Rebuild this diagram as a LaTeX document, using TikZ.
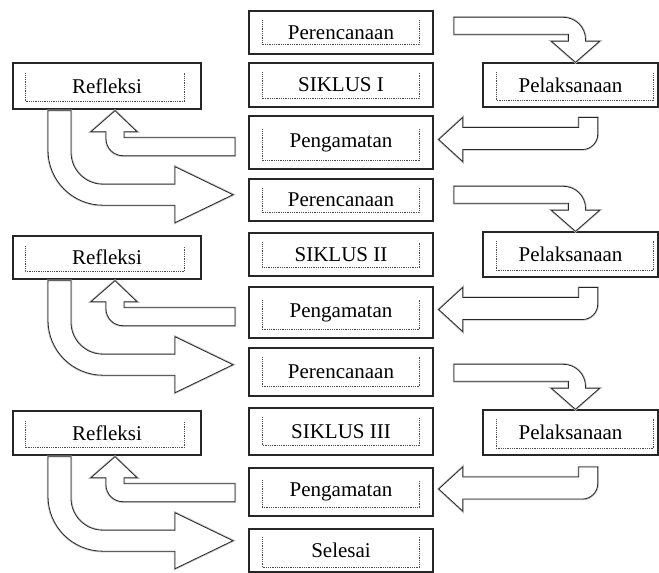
\documentclass[tikz,border=0pt]{standalone}
\usepackage{fontspec}
\setmainfont{Liberation Serif}
\usetikzlibrary{calc}

\begin{document}
\begin{tikzpicture}[x=1pt,y=-1pt,
  box/.style={draw=black!85,line width=1.4pt,fill=white,inner sep=0pt,
    font=\fontsize{21}{25}\selectfont},
  inner/.style={black!70,line width=0.8pt,dash pattern=on 0.9pt off 0.9pt},
  blockarrow/.style={draw=black!85,line width=0.8pt,fill=white,line join=miter,
    preaction={draw=black!25,line width=2.4pt}}]
  \useasboundingbox (0,0) rectangle (659,573);

  \node[box,minimum width=184,minimum height=43] (per1) at (341,32.5) {Perencanaan};
  \node[box,minimum width=184,minimum height=44] (sik1) at (341,85) {SIKLUS I};
  \node[box,minimum width=184,minimum height=53] (pen1) at (341,142.5) {Pengamatan};
  \node[box,minimum width=184,minimum height=42] (per2) at (341,200) {Perencanaan};
  \node[box,minimum width=184,minimum height=43] (sik2) at (341,254.5) {SIKLUS II};
  \node[box,minimum width=184,minimum height=51] (pen2) at (341,312.5) {Pengamatan};
  \node[box,minimum width=184,minimum height=48] (per3) at (341,372) {Perencanaan};
  \node[box,minimum width=184,minimum height=47] (sik3) at (341,431.5) {SIKLUS III};
  \node[box,minimum width=184,minimum height=48] (pen3) at (341,492) {Pengamatan};
  \node[box,minimum width=184,minimum height=43] (sel) at (341,550.5) {Selesai};

  \node[box,minimum width=188,minimum height=46] (ref1) at (107,86) {Refleksi};
  \node[box,minimum width=188,minimum height=43] (ref2) at (107,257.5) {Refleksi};
  \node[box,minimum width=188,minimum height=44] (ref3) at (107,433) {Refleksi};

  \node[box,minimum width=175,minimum height=44] (pel1) at (570.5,85) {Pelaksanaan};
  \node[box,minimum width=175,minimum height=45] (pel2) at (570.5,254.5) {Pelaksanaan};
  \node[box,minimum width=175,minimum height=45] (pel3) at (570.5,432.5) {Pelaksanaan};

  \foreach \n/\t/\b in {per1/10/10,sik1/10/9,pen1/14/9,per2/10/9,sik2/10/9,
      pen2/14/9,per3/10/10,sik3/10/10,pen3/13/9,sel/9/5}
    \draw[inner] ($(\n.north west)+(14,\t)$) -- ($(\n.south west)+(14,-\b)$)
      -- ($(\n.south east)+(-14,-\b)$) -- ($(\n.north east)+(-14,\t)$);
  \foreach \n in {ref1,ref2,ref3}
    \draw[inner] ($(\n.north west)+(13,11)$) -- ($(\n.south west)+(13,-8)$)
      -- ($(\n.south east)+(-17,-8)$) -- ($(\n.north east)+(-17,11)$);
  \foreach \n in {pel1,pel2,pel3}
    \draw[inner] ($(\n.north west)+(14,10)$) -- ($(\n.south west)+(14,-7)$)
      -- ($(\n.south east)+(-5,-7)$) -- ($(\n.north east)+(-5,10)$);

  \foreach \n in {1,2,3} {
    \begin{scope}[shift={(pel\n.north)}]
      \draw[blockarrow] (5,0) -- (29,-21) -- (15,-21) -- (15,-23)
        .. controls (15,-35) and (5,-45) .. (-7,-45) -- (-116.5,-45)
        -- (-116.5,-28) -- (-2,-28) -- (-2,-21) -- (-19,-21) -- cycle;
    \end{scope}
    \begin{scope}[shift={(pen\n.east)}]
      \draw[blockarrow] (5,-3) -- (29,-25) -- (29,-15) -- (145,-15) -- (145,-25)
        -- (164,-25) -- (164,-8) .. controls (164,0) and (157,7) .. (149,7)
        -- (29,7) -- (29,19) -- cycle;
    \end{scope}
    \begin{scope}[shift={(ref\n.south)}]
      \draw[blockarrow] (8,1) -- (30,22) -- (17,22) -- (17,28) -- (128,28)
        -- (128,46) -- (16,46) .. controls (6.6,46) and (-1,38.4) .. (-1,29)
        -- (-1,22) -- (-16,22) -- cycle;
      \draw[blockarrow] (-59,1) -- (-59,40.5)
        .. controls (-59,70.9) and (-34.4,95.5) .. (-4,95.5) -- (68,95.5)
        -- (68,113) -- (126,85) -- (68,57) -- (68,74.5) -- (-4,74.5)
        .. controls (-21.7,74.5) and (-36,60.2) .. (-36,42.5) -- (-36,1) -- cycle;
    \end{scope}
  }
\end{tikzpicture}
\end{document}
